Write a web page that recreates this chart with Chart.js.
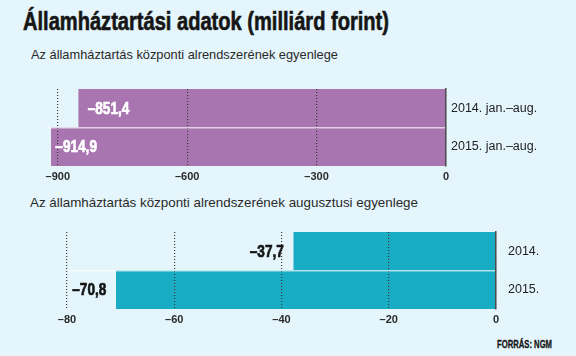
<!DOCTYPE html>
<html>
<head>
<meta charset="utf-8">
<script src="https://cdn.jsdelivr.net/npm/chart.js@4/dist/chart.umd.min.js"></script>
<style>
  html, body { margin: 0; padding: 0; }
  body { width: 576px; height: 356px; background: #e4f5fb; position: relative; overflow: hidden; font-family: "Liberation Sans", sans-serif; }
  .txt { position: absolute; white-space: nowrap; transform-origin: 0 0; line-height: 1; }
  #title { left: 23px; top: 9px; font-size: 25px; font-weight: bold; color: #151515; -webkit-text-stroke: 0.6px #151515; }
  #sub1 { left: 31px; top: 48px; font-size: 13.5px; color: #2a2a2a; }
  #sub2 { left: 30px; top: 196px; font-size: 13.5px; color: #2a2a2a; }
  #source { left: 497px; top: 339px; font-size: 10.5px; font-weight: bold; color: #151515; -webkit-text-stroke: 0.3px #151515; }
  .wrap { position: absolute; left: 0; width: 576px; }
  #w1 { top: 80px; height: 110px; }
  #w2 { top: 222px; height: 111px; }
</style>
</head>
<body>
<div class="txt" id="title" data-w="366">Államháztartási adatok (milliárd forint)</div>
<div class="txt" id="sub1" data-w="307">Az államháztartás központi alrendszerének egyenlege</div>
<div class="txt" id="sub2" data-w="388">Az államháztartás központi alrendszerének augusztusi egyenlege</div>
<div class="txt" id="source" data-w="55">FORRÁS: NGM</div>
<div class="wrap" id="w1"><canvas id="c1"></canvas></div>
<div class="wrap" id="w2"><canvas id="c2"></canvas></div>
<script>
// ---- data ----
const categoriesTop = ['2014. jan.–aug.', '2015. jan.–aug.'];
const valuesTop = [-851.4, -914.9];
const ticksTop = [-900, -600, -300, 0];

const categoriesBottom = ['2014.', '2015.'];
const valuesBottom = [-37.7, -70.8];
const ticksBottom = [-80, -60, -40, -20, 0];

// ---- helpers ----
function fmt(v) {
  return v.toFixed(v % 1 === 0 ? 0 : 1).replace('.', ',').replace('-', '–');
}

document.querySelectorAll('.txt').forEach(el => {
  const target = parseFloat(el.dataset.w);
  const w = el.getBoundingClientRect().width;
  if (w > 0) el.style.transform = 'scaleX(' + (target / w) + ')';
});

const FONT = '"Liberation Sans", sans-serif';

function makeChart(canvasId, cats, vals, ticks, opts) {
  const labelPlugin = {
    id: 'valueLabels',
    afterDraw(chart) {
      const ctx = chart.ctx;
      const meta = chart.getDatasetMeta(0);
      ctx.save();
      ctx.font = 'bold 17px ' + FONT;
      ctx.textBaseline = 'middle';
      const sx = 0.8;
      meta.data.forEach((bar, i) => {
        const txt = fmt(vals[i]);
        ctx.save();
        let col;
        if (opts.labelInside) {
          col = '#ffffff';
          ctx.textAlign = 'left';
          const x = bar.x - chart.chartArea.left < 10 ? bar.x + 4 : bar.x + 9;
          ctx.translate(x, bar.y + 1);
        } else {
          col = '#151515';
          ctx.textAlign = 'right';
          ctx.translate(bar.x - 10, bar.y + 1);
        }
        ctx.scale(sx, 1);
        ctx.fillStyle = col;
        ctx.strokeStyle = col;
        ctx.lineWidth = 0.7;
        ctx.fillText(txt, 0, 0);
        ctx.strokeText(txt, 0, 0);
        ctx.restore();
      });
      ctx.restore();
    }
  };
  return new Chart(document.getElementById(canvasId), {
    type: 'bar',
    data: {
      labels: cats,
      datasets: [{
        data: vals,
        backgroundColor: opts.color,
        borderWidth: 0,
        barPercentage: 1,
        categoryPercentage: 1
      }]
    },
    options: {
      indexAxis: 'y',
      responsive: true,
      maintainAspectRatio: false,
      animation: false,
      layout: { padding: { top: opts.padTop, left: opts.padLeft, right: 0, bottom: 0 } },
      plugins: { legend: { display: false }, tooltip: { enabled: false }, title: { display: false } },
      scales: {
        x: {
          type: 'linear',
          min: opts.min,
          max: 0,
          afterBuildTicks(scale) { scale.ticks = ticks.map(v => ({ value: v })); },
          afterFit(scale) { scale.height = 24; scale.paddingLeft = 0; scale.paddingRight = 0; scale.paddingTop = 0; scale.paddingBottom = 0; },
          border: { display: false, dash: [1, 2] },
          grid: {
            z: 1,
            drawTicks: false,
            color: '#3a3a3a',
            lineWidth: 1.2
          },
          ticks: {
            padding: 4,
            color: '#2a2a2a',
            font: { family: FONT, size: 11, weight: 'bold' },
            callback: (v) => fmt(v)
          }
        },
        y: {
          position: 'right',
          afterFit(scale) { scale.width = opts.yWidth; scale.paddingTop = 0; scale.paddingBottom = 0; scale.paddingLeft = 0; scale.paddingRight = 0; },
          border: { display: true, color: '#4d4d4d', width: 1.5, z: 2 },
          grid: {
            z: 1,
            offset: true,
            drawTicks: false,
            color: (c) => c.index === 1 ? 'rgba(255,255,255,0.65)' : 'rgba(0,0,0,0)',
            lineWidth: 1.5
          },
          ticks: {
            padding: opts.yPad,
            color: '#222222',
            font: { family: FONT, size: 12.5 }
          }
        }
      }
    },
    plugins: [labelPlugin]
  });
}

makeChart('c1', categoriesTop, valuesTop, ticksTop, {
  color: '#a875b1', min: -925, padTop: 9, padLeft: 47, yWidth: 130, yPad: 5, labelInside: true
});
makeChart('c2', categoriesBottom, valuesBottom, ticksBottom, {
  color: '#19adc5', min: -80, padTop: 10, padLeft: 67, yWidth: 80, yPad: 12, labelInside: false
});
</script>
</body>
</html>
